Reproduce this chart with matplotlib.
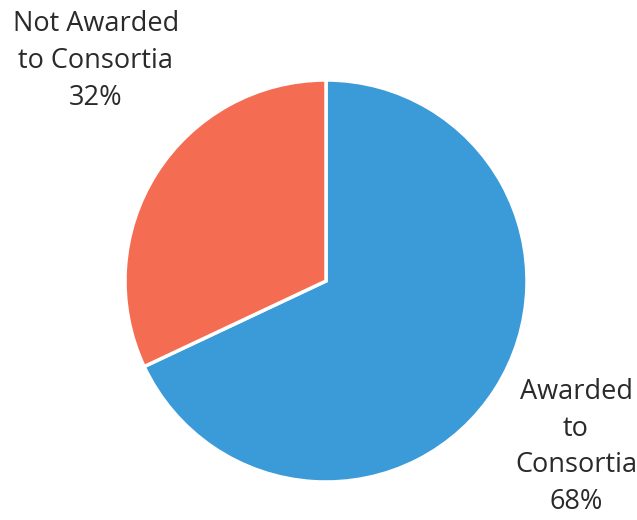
import matplotlib
matplotlib.use("Agg")
import matplotlib.pyplot as plt

labels = ["Awarded\nto\nConsortia", "Not Awarded\nto Consortia"]
values = [68, 32]
colors = ["#3b9ad8", "#f46d53"]

W, H = 637, 520
fig = plt.figure(figsize=(W / 100, H / 100), dpi=100)
ax = fig.add_axes([0, 0, 1, 1])

ax.pie(values, colors=colors, startangle=90, counterclock=False,
       center=(326, H - 281), radius=201,
       wedgeprops=dict(edgecolor="white", linewidth=2.5))

ax.set_xlim(0, W)
ax.set_ylim(0, H)
ax.set_aspect("equal")
ax.axis("off")

font = dict(family="Open Sans", fontsize=19.5, color="#2a2a2a",
            ha="center", va="center", linespacing=1.42)
ax.text(96, H - 61, f"{labels[1]}\n{values[1]}%", **font)
ax.text(576, H - 447, f"{labels[0]}\n{values[0]}%", **font)

fig.savefig("out.png", dpi=100)
